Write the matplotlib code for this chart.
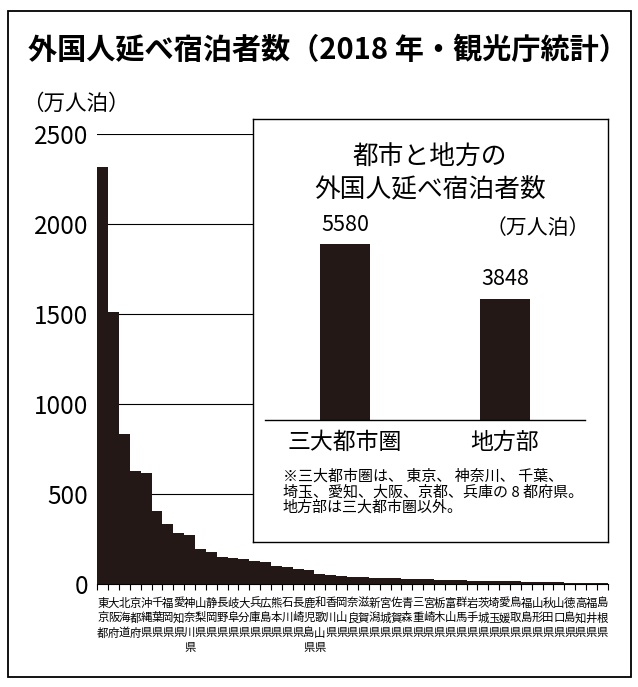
import numpy as np
import matplotlib
matplotlib.use("Agg")
import matplotlib.pyplot as plt
from matplotlib.patches import Rectangle

plt.rcParams['font.family'] = ['Noto Sans CJK JP', 'DejaVu Sans']

# -------------------------
# Data (万人泊, 2018)
# -------------------------
prefectures = [
    "東京都", "大阪府", "北海道", "京都府", "沖縄県", "千葉県", "福岡県", "愛知県",
    "神奈川県", "山梨県", "静岡県", "長野県", "岐阜県", "大分県", "兵庫県", "広島県",
    "熊本県", "石川県", "長崎県", "鹿児島県", "和歌山県", "香川県", "岡山県", "奈良県",
    "滋賀県", "新潟県", "宮城県", "佐賀県", "青森県", "三重県", "宮崎県", "栃木県",
    "富山県", "群馬県", "岩手県", "茨城県", "埼玉県", "愛媛県", "鳥取県", "福島県",
    "山形県", "秋田県", "山口県", "徳島県", "高知県", "福井県", "島根県",
]
guest_nights = [
    2318, 1513, 833, 629, 616, 409, 335, 283,
    274, 194, 178, 153, 148, 142, 129, 122,
    102, 94, 85, 79, 57, 54, 48, 42,
    40, 37, 37, 33, 31, 31, 28, 26,
    26, 22, 21, 21, 20, 20, 17, 15,
    15, 11, 11, 10, 8, 7, 7,
]
y_ticks = [0, 500, 1000, 1500, 2000, 2500]

area_labels = ["三大都市圏", "地方部"]
area_values = [5580, 3848]

bar_color = "#231815"

fig = plt.figure(figsize=(6.38, 6.87), dpi=100)
W, H = 638, 687

# outer frame
fig.patches.append(Rectangle((8 / W, 1 - 677 / H), 623 / W, 666 / H,
                             transform=fig.transFigure, fill=False,
                             edgecolor="black", linewidth=1.3))

fig.text(28 / W, 1 - 50 / H, "外国人延べ宿泊者数（2018 年・観光庁統計）",
         fontsize=21, weight="bold", va="center", ha="left")
fig.text(22 / W, 1 - 104 / H, "（万人泊）", fontsize=15.5, va="center", ha="left")

# -------------------------
# Main bar chart
# -------------------------
ax = fig.add_axes([97.3 / W, 1 - 584.3 / H, 510.4 / W, 450 / H])
x = np.arange(len(prefectures))
ax.bar(x, guest_nights, width=1.0, align="edge", color=bar_color, zorder=2)
ax.set_xlim(0, len(prefectures))
ax.set_ylim(0, 2500)
ax.set_yticks(y_ticks)
ax.set_yticklabels([str(t) for t in y_ticks])
ax.set_xticks(np.arange(len(prefectures) + 1))
ax.grid(axis="y", color="black", linewidth=0.8)
ax.set_axisbelow(True)
for s in ["left", "top", "right"]:
    ax.spines[s].set_visible(False)
ax.spines["bottom"].set_linewidth(0.8)
ax.tick_params(axis="y", length=0, pad=6.5, labelsize=17.5)
ax.tick_params(axis="x", direction="out", length=4.5, width=0.8, labelbottom=False)

# vertical prefecture names, one character per row
trans = ax.get_xaxis_transform()
for i, name in enumerate(prefectures):
    for j, ch in enumerate(name):
        ax.text(i + 0.5, (584.3 - (603 + 15 * j)) / 450, ch, transform=trans,
                ha="center", va="center", fontsize=8.2, clip_on=False)

# -------------------------
# Inset: cities vs regions
# -------------------------
bx0, by0, bx1, by1 = 253, 119, 608, 542
ax_box = fig.add_axes([bx0 / W, 1 - by1 / H, (bx1 - bx0) / W, (by1 - by0) / H], zorder=3)
ax_box.set_facecolor("white")
ax_box.set_xticks([])
ax_box.set_yticks([])
for s in ax_box.spines.values():
    s.set_linewidth(1.0)

def bpos(px, py):
    return (px - bx0) / (bx1 - bx0), (by1 - py) / (by1 - by0)

ax_box.text(*bpos(430, 158), "都市と地方の", transform=ax_box.transAxes,
            ha="center", va="center", fontsize=18.5)
ax_box.text(*bpos(430, 190), "外国人延べ宿泊者数", transform=ax_box.transAxes,
            ha="center", va="center", fontsize=18.5)
ax_box.text(*bpos(538, 228), "（万人泊）", transform=ax_box.transAxes,
            ha="center", va="center", fontsize=15)

notes = [
    "※三大都市圏は、 東京、 神奈川、 千葉、",
    "埼玉、愛知、大阪、京都、兵庫の 8 都府県。",
    "地方部は三大都市圏以外。",
]
for k, line in enumerate(notes):
    ax_box.text(*bpos(283, 477 + 15.5 * k), line, transform=ax_box.transAxes,
                ha="left", va="center", fontsize=10.8)

ax_in = fig.add_axes([265 / W, 1 - 420 / H, 320 / W, 252 / H], zorder=4)
ax_in.patch.set_alpha(0)
ax_in.bar(range(len(area_labels)), area_values, width=0.315, color=bar_color)
ax_in.set_xlim(-0.5, 1.5)
ax_in.set_ylim(0, 8000)
ax_in.set_yticks([])
ax_in.set_xticks(range(len(area_labels)))
ax_in.set_xticklabels(area_labels, fontsize=16.5)
ax_in.tick_params(axis="x", length=0, pad=8)
for s in ["left", "top", "right"]:
    ax_in.spines[s].set_visible(False)
ax_in.spines["bottom"].set_linewidth(1.0)
for i, v in enumerate(area_values):
    ax_in.annotate(f"{v}", (i, v), xytext=(0, 6), textcoords="offset points",
                   ha="center", va="bottom", fontsize=15.5)

fig.savefig("out.png", dpi=100)
